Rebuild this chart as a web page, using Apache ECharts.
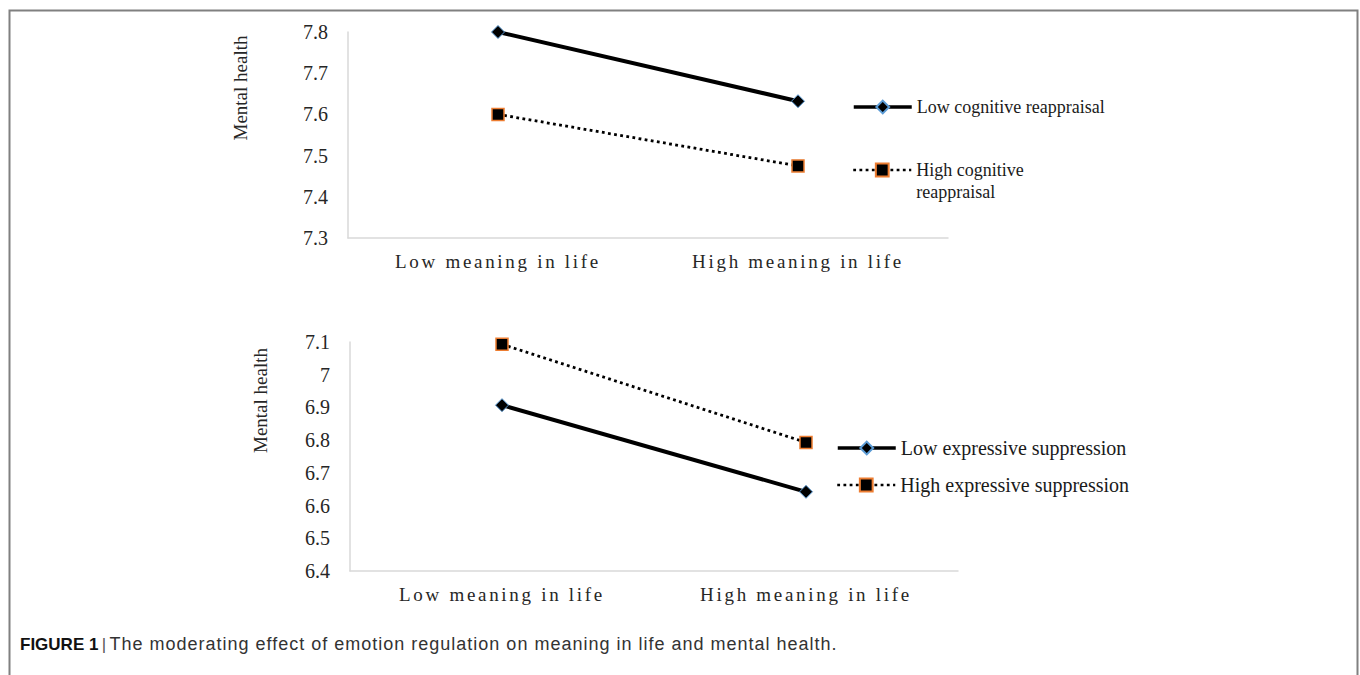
<!DOCTYPE html>
<html>
<head>
<meta charset="utf-8">
<script src="https://cdn.jsdelivr.net/npm/echarts@6/dist/echarts.min.js"></script>
<style>
html,body{margin:0;padding:0;background:#fff;}
#chart{width:1360px;height:675px;}
</style>
</head>
<body>
<div id="chart"></div>
<script>
const categories = ['Low meaning in life', 'High meaning in life'];
const topSeriesNames = ['Low cognitive reappraisal', 'High cognitive\nreappraisal'];
const lowCognitive = [7.8, 7.632];
const highCognitive = [7.6, 7.475];
const bottomSeriesNames = ['Low expressive suppression', 'High expressive suppression'];
const lowExpressive = [6.907, 6.642];
const highExpressive = [7.093, 6.793];
const topTicks = {min: 7.3, max: 7.8, interval: 0.1};
const bottomTicks = {min: 6.4, max: 7.1, interval: 0.1};
const yTitle = 'Mental health';
const caption = 'The moderating effect of emotion regulation on meaning in life and mental health.';

const serif = '"Liberation Serif", "Times New Roman", serif';
const solidStyle = {color: '#000', width: 4, type: 'solid'};
const dotStyle = {color: '#000', width: 2.8, type: [2.8, 3.4], cap: 'butt'};
const diamondItem = {color: '#000', borderColor: '#5b9bd5', borderWidth: 1};
const squareItem = {color: '#000', borderColor: '#ed7d31', borderWidth: 1.5};

function xAxisFor(gridIndex) {
  return {
    type: 'category', gridIndex, data: categories, boundaryGap: true,
    axisLine: {show: true, lineStyle: {color: '#d9d9d9', width: 1.5}},
    axisTick: {show: false},
    axisLabel: {fontFamily: serif, fontSize: 19, color: '#262626', margin: 14}
  };
}
function yAxisFor(gridIndex, t, gap, shift) {
  return {
    type: 'value', gridIndex, min: t.min, max: t.max, interval: t.interval,
    axisLine: {show: true, lineStyle: {color: '#d9d9d9', width: 1.5}},
    axisTick: {show: false}, splitLine: {show: false},
    axisLabel: {fontFamily: serif, fontSize: 20, color: '#262626', margin: 20},
    name: yTitle, nameLocation: 'middle', nameGap: gap, nameRotate: 90,
    nameTextStyle: {fontFamily: serif, fontSize: 19, color: '#262626', padding: [0, 0, 0, shift]}
  };
}
function legendFor(name, left, top, fontSize, lineStyle, extra) {
  return Object.assign({
    data: [name], left, top, orient: 'vertical', padding: 0,
    itemWidth: 58, itemHeight: 16, itemGap: 0,
    lineStyle: lineStyle,
    textStyle: {fontFamily: serif, fontSize, color: '#1a1a1a'}
  }, extra || {});
}

const chart = echarts.init(document.getElementById('chart'), null, {renderer: 'svg'});
chart.setOption({
  animation: false,
  backgroundColor: '#fff',
  grid: [
    {left: 348, top: 32, width: 600, height: 206},
    {left: 350, top: 342, width: 608, height: 229}
  ],
  xAxis: [xAxisFor(0), xAxisFor(1)],
  yAxis: [yAxisFor(0, topTicks, 98, 94), yAxisFor(1, bottomTicks, 80, 112)],
  legend: [
    legendFor(topSeriesNames[0], 852, 98, 18, {width: 3.5}),
    legendFor(topSeriesNames[1], 852, 137, 18, {width: 2.5},
      {formatter: n => '\n' + n,
       textStyle: {fontFamily: serif, fontSize: 18, color: '#1a1a1a', lineHeight: 22}}),
    legendFor(bottomSeriesNames[0], 836, 438, 20, {width: 3.5}),
    legendFor(bottomSeriesNames[1], 836, 475, 20, {width: 2.5})
  ],
  series: [
    {name: topSeriesNames[0], type: 'line', xAxisIndex: 0, yAxisIndex: 0, data: lowCognitive,
     symbol: 'diamond', symbolSize: 13, lineStyle: solidStyle, itemStyle: diamondItem},
    {name: topSeriesNames[1], type: 'line', xAxisIndex: 0, yAxisIndex: 0, data: highCognitive,
     symbol: 'rect', symbolSize: 12, lineStyle: dotStyle, itemStyle: squareItem},
    {name: bottomSeriesNames[0], type: 'line', xAxisIndex: 1, yAxisIndex: 1, data: lowExpressive,
     symbol: 'diamond', symbolSize: 13, lineStyle: solidStyle, itemStyle: diamondItem},
    {name: bottomSeriesNames[1], type: 'line', xAxisIndex: 1, yAxisIndex: 1, data: highExpressive,
     symbol: 'rect', symbolSize: 12, lineStyle: dotStyle, itemStyle: squareItem}
  ],
  graphic: [
    {type: 'rect', left: 7, top: 8, silent: true,
     shape: {width: 1348, height: 700},
     style: {fill: 'none', stroke: '#808080', lineWidth: 2}},
    {type: 'text', left: 20, top: 635, silent: true,
     style: {
       text: '{b|FIGURE 1} {s||} {n|' + caption + '}',
       rich: {
         b: {fontFamily: '"Liberation Sans", Arial, sans-serif', fontSize: 17, fontWeight: 'bold', fill: '#111'},
         s: {fontFamily: '"Liberation Sans", Arial, sans-serif', fontSize: 17, fill: '#555'},
         n: {fontFamily: '"Liberation Sans", Arial, sans-serif', fontSize: 18, fill: '#333'}
       }
     }}
  ]
});

function spaceLabels() {
  document.querySelectorAll('#chart text').forEach(t => {
    if (categories.indexOf(t.textContent) > -1) t.setAttribute('letter-spacing', '2.7');
    if (t.textContent === caption) t.setAttribute('letter-spacing', '1.0');
  });
}
spaceLabels();
chart.on('finished', spaceLabels);
</script>
</body>
</html>
